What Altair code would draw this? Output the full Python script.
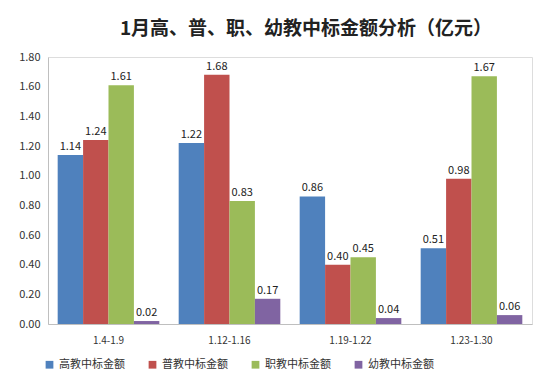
import altair as alt
import pandas as pd

categories = ["1.4-1.9", "1.12-1.16", "1.19-1.22", "1.23-1.30"]
series = ["高教中标金额", "普教中标金额", "职教中标金额", "幼教中标金额"]
gaojiao = [1.14, 1.22, 0.86, 0.51]
pujiao = [1.24, 1.68, 0.40, 0.98]
zhijiao = [1.61, 0.83, 0.45, 1.67]
youjiao = [0.02, 0.17, 0.04, 0.06]
colors = ["#4F81BD", "#C0504D", "#9BBB59", "#8064A2"]

rows = []
for s, vals in zip(series, [gaojiao, pujiao, zhijiao, youjiao]):
    for c, v in zip(categories, vals):
        rows.append({"period": c, "series": s, "value": v})
df = pd.DataFrame(rows)

FONT = "Noto Sans CJK SC"

base = alt.Chart(df).encode(
    x=alt.X("period:N", sort=categories,
            scale=alt.Scale(paddingInner=0.16, paddingOuter=0.08),
            axis=alt.Axis(title=None, labelAngle=0, ticks=False, labelPadding=11,
                          labelFontSize=10, labelColor="#333333", domainColor="#BFBFBF")),
    xOffset=alt.XOffset("series:N", sort=series),
    y=alt.Y("value:Q", scale=alt.Scale(domain=[0, 1.8]),
            axis=alt.Axis(title=None, values=[i * 0.2 for i in range(10)], format=".2f",
                          grid=False, ticks=False, labelPadding=8, labelFontSize=11,
                          labelColor="#333333", domainColor="#BFBFBF")),
)

bars = base.mark_bar().encode(
    color=alt.Color("series:N", sort=series,
                    scale=alt.Scale(domain=series, range=colors),
                    legend=alt.Legend(title=None, orient="none", direction="horizontal",
                                      legendX=-4, legendY=302, columns=4, columnPadding=22,
                                      symbolType="square", symbolSize=60, symbolStrokeWidth=0,
                                      labelFontSize=11, labelColor="#333333", labelFont=FONT))
)

labels = base.mark_text(dy=-8, fontSize=11, color="#222222").encode(
    text=alt.Text("value:Q", format=".2f")
)

chart = (bars + labels).properties(
    width=484, height=267,
    autosize=alt.AutoSizeParams(type="none"),
    padding={"left": 40, "top": 49, "right": 10, "bottom": 57},
    title=alt.Title("1月高、普、职、幼教中标金额分析（亿元）", fontSize=19, font=FONT,
                    fontWeight="bold", color="#222222", anchor="middle", dx=16, offset=12),
).configure_view(stroke=None).configure(font=FONT)

chart.save("out.html", embed_options={"renderer": "svg", "actions": False})
